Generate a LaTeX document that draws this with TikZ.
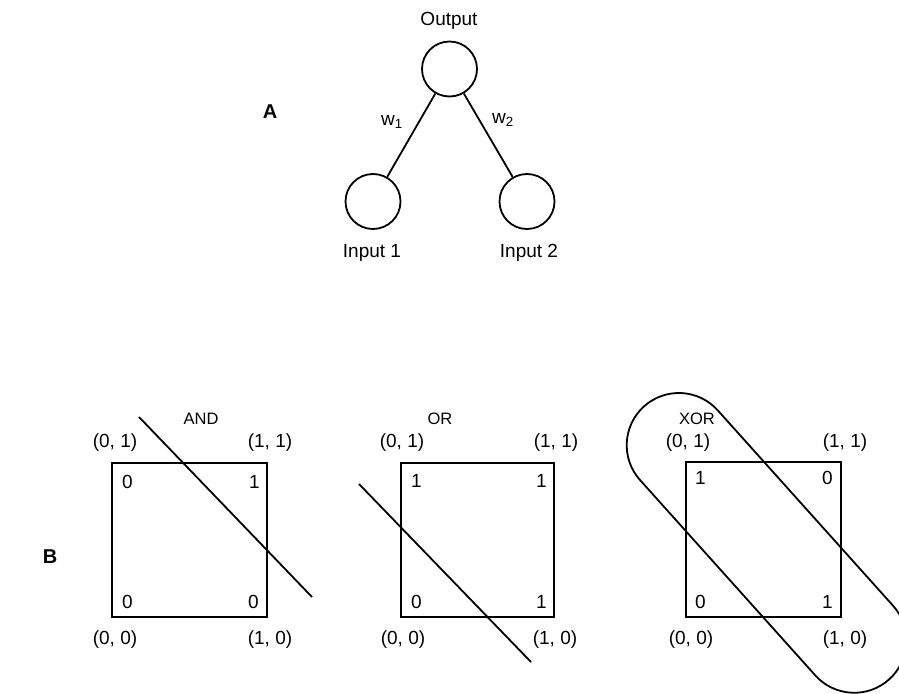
\documentclass[tikz,border=0pt]{standalone}
\usepackage{fontspec}
\setmainfont{Liberation Sans}
\begin{document}
\begin{tikzpicture}[x=1pt,y=-1pt,
  txt/.style={font=\fontsize{19}{22}\selectfont, inner sep=0pt},
  gate/.style={font=\fontsize{16.5}{20}\selectfont, inner sep=0pt},
  ttl/.style={font=\fontsize{20}{22}\selectfont\bfseries, inner sep=0pt},
  neuron/.style={circle, draw, line width=1.8pt, minimum size=55pt, inner sep=0pt},
  edge/.style={line width=1.8pt},
  box/.style={line width=1.8pt},
]
\useasboundingbox (0,0) rectangle (899,693);

% ---------- A: two-input unit ----------
\node[ttl] (labA) at (270,112) {A};
\node[neuron] (out) at (449.5,69) {};
\node[neuron] (in1) at (373,201.5) {};
\node[neuron] (in2) at (527,201.5) {};
\draw[edge] (out) -- (in1);
\draw[edge] (out) -- (in2);
\node[txt] (tout) at (449,21) {Output};
\node[txt] (tin1) at (372,253) {Input 1};
\node[txt] (tin2) at (529,253) {Input 2};
\node[txt] (w1) at (392,122) {w\textsubscript{1}};
\node[txt] (w2) at (503,120) {w\textsubscript{2}};

% ---------- B: decision spaces ----------
\node[ttl] (labB) at (50,557) {B};

% AND
\node[gate] (tand) at (201,419) {AND};
\draw[box] (112,463) rectangle (267,617);
\node[txt] (a01) at (115,443) {(0, 1)};
\node[txt] (a11) at (270,443) {(1, 1)};
\node[txt] (a00) at (115,640) {(0, 0)};
\node[txt] (a10) at (270,640) {(1, 0)};
\node[txt, anchor=west] (av01) at (122,481.7) {0};
\node[txt, anchor=east] (av11) at (260,481.7) {1};
\node[txt, anchor=west] (av00) at (122,601.7) {0};
\node[txt, anchor=east] (av10) at (259,601.7) {0};
\coordinate (andA) at (139,417);
\coordinate (andB) at (312,597);
\draw[edge] (andA) -- (andB);

% OR
\node[gate] (tor) at (440,419) {OR};
\draw[box] (401,463) rectangle (554,617);
\node[txt] (o01) at (402,443) {(0, 1)};
\node[txt] (o11) at (556,443) {(1, 1)};
\node[txt] (o00) at (403,640) {(0, 0)};
\node[txt] (o10) at (555,640) {(1, 0)};
\node[txt, anchor=west] (ov01) at (411,481) {1};
\node[txt, anchor=east] (ov11) at (547,481) {1};
\node[txt, anchor=west] (ov00) at (411,602) {0};
\node[txt, anchor=east] (ov10) at (547,602) {1};
\coordinate (orA) at (359,484);
\coordinate (orB) at (531,662);
\draw[edge] (orA) -- (orB);

% XOR
\node[gate] (txor) at (697,419) {XOR};
\draw[box] (686,462) rectangle (841,617);
\node[txt] (x01) at (688,443) {(0, 1)};
\node[txt] (x11) at (845,443) {(1, 1)};
\node[txt] (x00) at (691,640) {(0, 0)};
\node[txt] (x10) at (845,640) {(1, 0)};
\node[txt, anchor=west] (xv01) at (695,478) {1};
\node[txt, anchor=east] (xv11) at (833,478) {0};
\node[txt, anchor=west] (xv00) at (695,602) {0};
\node[txt, anchor=east] (xv10) at (833,602) {1};
% capsule enclosing (0,1) and (1,0)
\begin{scope}[shift={(678.9,445.2)}, rotate=-48.1]
  \draw[box] (0,52.2) -- (262.5,52.2) arc[start angle=90,end angle=-90,radius=52.2]
    -- (0,-52.2) arc[start angle=270,end angle=90,radius=52.2] -- cycle;
\end{scope}
\end{tikzpicture}
\end{document}
